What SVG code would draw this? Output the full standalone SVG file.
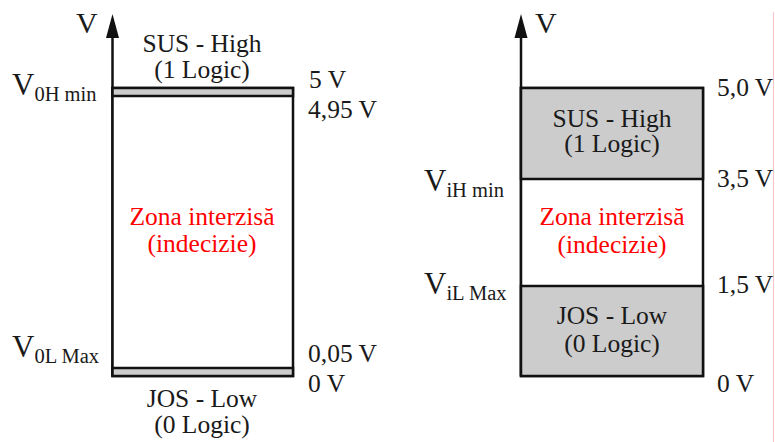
<svg xmlns="http://www.w3.org/2000/svg" width="775" height="442" viewBox="0 0 775 442">
<style>
text{font-family:"Liberation Serif","Times New Roman",serif;fill:#1a1a1a}
.lbl{font-size:25.5px}
.mid{text-anchor:middle}
.red{fill:#ff0000}
.big{font-size:31px}
.ax{font-size:30px}
.sub{font-size:20.5px}
.box{stroke:#111;stroke-width:2.5;fill:#fff}
.gray{stroke:#111;stroke-width:2.5;fill:#cccccc}
.axis{stroke:#111;stroke-width:2.5}
</style>
<rect width="775" height="442" fill="#fff"/>
<line x1="773.5" y1="12" x2="773.5" y2="442" stroke="#f7c6c6" stroke-width="1"/>
<g id="connectors">
<line class="axis" x1="112.5" y1="376" x2="112.5" y2="34"/>
<polygon points="112.5,14 106,38 119,38" fill="#111"/>
<line class="axis" x1="521" y1="376" x2="521" y2="34"/>
<polygon points="521,14 514.5,38 527.5,38" fill="#111"/>
</g>
<g id="left-diagram">
<text class="ax" x="76" y="33">V</text>
<rect class="box" x="112.5" y="88" width="180.5" height="288"/>
<rect class="gray" x="112.5" y="88" width="180.5" height="8"/>
<rect class="gray" x="112.5" y="368" width="180.5" height="8"/>
<text class="lbl mid" x="202" y="52">SUS - High</text>
<text class="lbl mid" x="202" y="78">(1 Logic)</text>
<text class="lbl mid red" x="202" y="225">Zona interzisă</text>
<text class="lbl mid red" x="202" y="252">(indecizie)</text>
<text class="lbl mid" x="202" y="407">JOS - Low</text>
<text class="lbl mid" x="202" y="433">(0 Logic)</text>
<text class="big" x="12" y="95">V<tspan class="sub" dy="6">0H min</tspan></text>
<text class="big" x="12" y="357">V<tspan class="sub" dy="6">0L Max</tspan></text>
<text class="lbl" x="309" y="88">5 V</text>
<text class="lbl" x="308" y="118">4,95 V</text>
<text class="lbl" x="308" y="362">0,05 V</text>
<text class="lbl" x="308" y="392">0 V</text>
</g>
<g id="right-diagram">
<text class="ax" x="535" y="33">V</text>
<rect class="box" x="521" y="88" width="182" height="288"/>
<rect class="gray" x="521" y="88" width="182" height="91"/>
<rect class="gray" x="521" y="286" width="182" height="90"/>
<text class="lbl mid" x="612" y="127">SUS - High</text>
<text class="lbl mid" x="612" y="152">(1 Logic)</text>
<text class="lbl mid red" x="612" y="225">Zona interzisă</text>
<text class="lbl mid red" x="612" y="253">(indecizie)</text>
<text class="lbl mid" x="612" y="324">JOS - Low</text>
<text class="lbl mid" x="612" y="352">(0 Logic)</text>
<text class="big" x="424" y="191">V<tspan class="sub" dy="6">iH min</tspan></text>
<text class="big" x="424" y="294">V<tspan class="sub" dy="6">iL Max</tspan></text>
<text class="lbl" x="717" y="96">5,0 V</text>
<text class="lbl" x="717" y="187">3,5 V</text>
<text class="lbl" x="717" y="293">1,5 V</text>
<text class="lbl" x="717" y="392">0 V</text>
</g>
</svg>
